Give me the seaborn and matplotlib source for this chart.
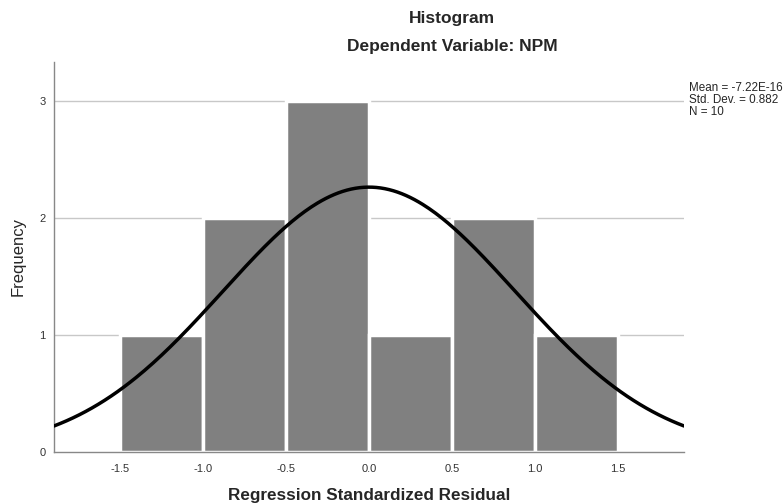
import numpy as np
import matplotlib.pyplot as plt
import seaborn as sns

# bin edges and counts
bin_edges = [-1.5, -1.0, -0.5, 0.0, 0.5, 1.0, 1.5]
counts = [1, 2, 3, 1, 2, 1]
bin_mid = [(a + b) / 2 for a, b in zip(bin_edges[:-1], bin_edges[1:])]

mean = -7.22e-16
std_dev = 0.882
n = 10
x_ticks = [-1.5, -1.0, -0.5, 0.0, 0.5, 1.0, 1.5]
y_ticks = [0, 1, 2, 3]

sns.set_style("white")
plt.rcParams['font.family'] = ['Liberation Sans', 'DejaVu Sans']

fig = plt.figure(figsize=(7.84, 5.03), dpi=100)
ax = fig.add_axes([54 / 784, 1 - 452 / 503, 630 / 784, 390 / 503])

for y in y_ticks[1:]:
    ax.axhline(y, color='#c8c8c8', lw=1, zorder=0)

sns.histplot(x=bin_mid, weights=counts, bins=bin_edges, color='#808080',
             edgecolor='white', linewidth=2.5, alpha=1, ax=ax, zorder=2)

# fitted normal curve scaled to counts
xs = np.linspace(-1.9, 1.9, 300)
bw = bin_edges[1] - bin_edges[0]
ys = n * bw / (std_dev * np.sqrt(2 * np.pi)) * np.exp(-0.5 * ((xs - mean) / std_dev) ** 2)
sns.lineplot(x=xs, y=ys, color='black', lw=2.5, ax=ax, zorder=3)

ax.set_xlim(-1.9, 1.9)
ax.set_ylim(0, 3.33)
ax.set_xticks(x_ticks)
ax.set_xticklabels([f"{t:.1f}" for t in x_ticks])
ax.set_yticks(y_ticks)
ax.tick_params(axis='x', length=0, labelsize=8, colors='#333333', pad=9)
ax.tick_params(axis='y', length=0, labelsize=8, colors='#333333', pad=6)
for s in ['top', 'right']:
    ax.spines[s].set_visible(False)
for s in ['left', 'bottom']:
    ax.spines[s].set_color('#888888')
    ax.spines[s].set_linewidth(1)

ax.set_xlabel('Regression Standardized Residual', fontsize=12.3, fontweight='bold', labelpad=10)
ax.set_ylabel('Frequency', fontsize=12, labelpad=10)

fig.text(452 / 784, 1 - 18 / 503, 'Histogram', ha='center', va='center',
         fontsize=12.5, fontweight='bold')
fig.text(452 / 784, 1 - 47 / 503, 'Dependent Variable: NPM', ha='center', va='center',
         fontsize=12.5, fontweight='bold')
fig.text(689 / 784, 1 - 100 / 503,
         f"Mean = -7.22E-16\nStd. Dev. = {std_dev}\nN = {n}",
         ha='left', va='center', fontsize=8.4, linespacing=1.05)

fig.savefig('out.png', dpi=100)
